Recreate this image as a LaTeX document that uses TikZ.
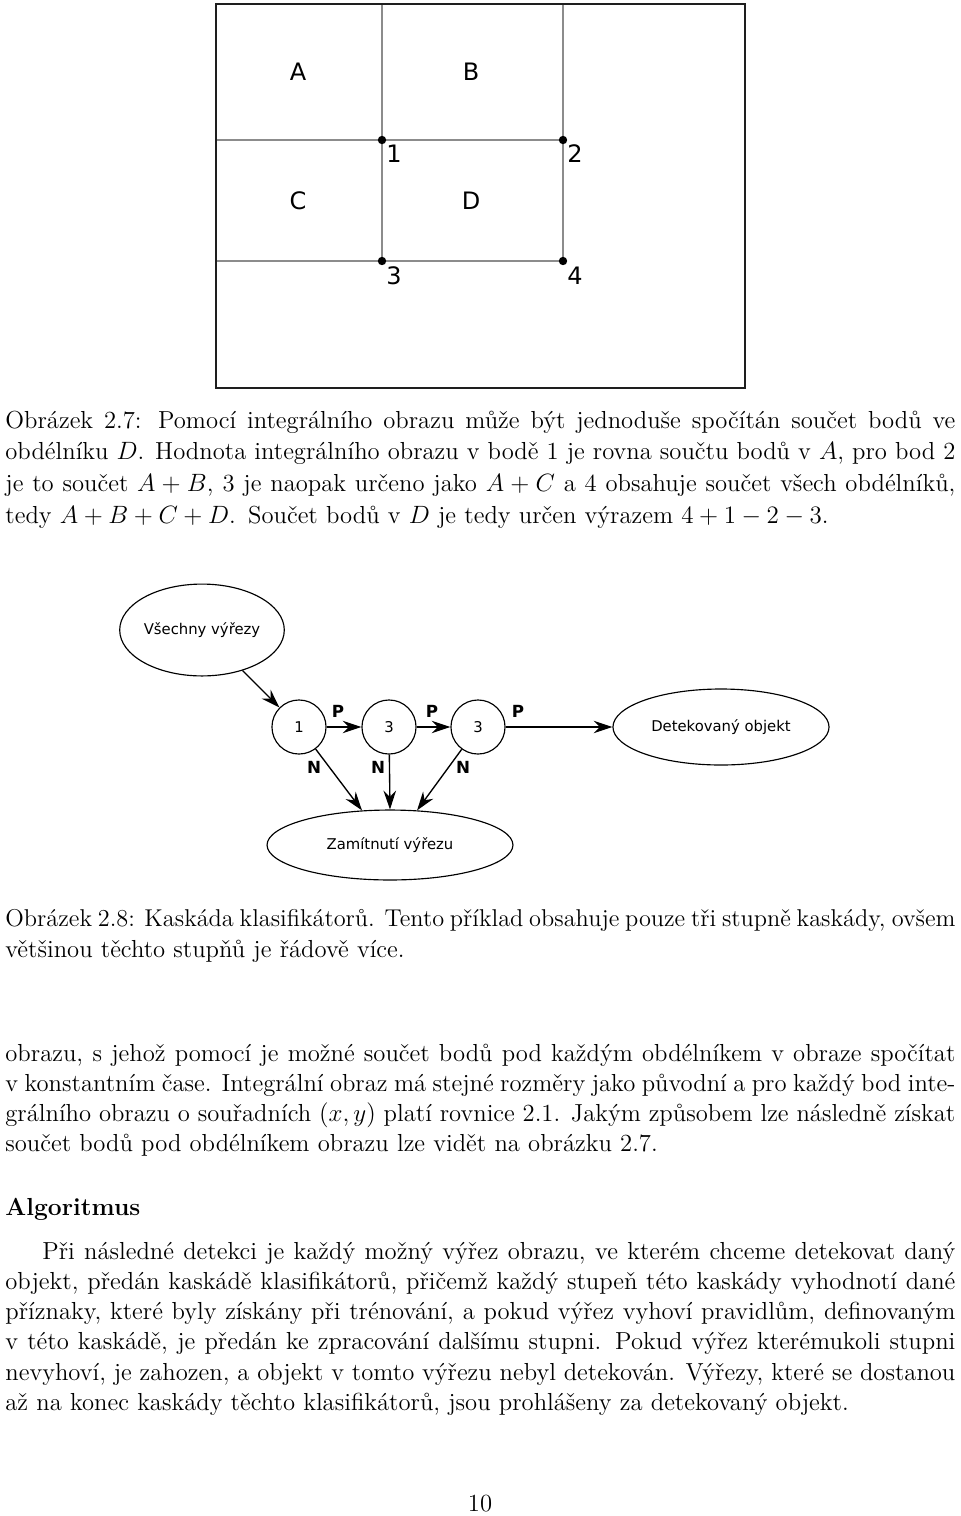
\documentclass[tikz,border=0pt]{standalone}
\usepackage{fontspec}
\usetikzlibrary{shapes.geometric,arrows.meta}
\newfontfamily\dvs{DejaVu Sans}
\definecolor{framec}{RGB}{30,30,30}
\definecolor{gridc}{RGB}{140,140,140}
\newcommand{\jline}[1]{\leavevmode\hbox to 455.05pt{\spaceskip=0pt\xspaceskip=0pt #1}}
\begin{document}
\begin{tikzpicture}[x=0.479pt,y=-0.479pt,
  frameline/.style={draw=framec,line width=1pt},
  gridline/.style={draw=gridc,line width=0.5pt},
  dotc/.style={fill=black},
  lab/.style={inner sep=0,font=\dvs\fontsize{11.5}{14}\selectfont},
  ell/.style={draw,ellipse,inner sep=0,line width=0.55pt,font=\dvs\fontsize{7.1}{9}\selectfont},
  stage/.style={draw,circle,inner sep=0,line width=0.55pt,minimum size=25.9pt,font=\dvs\fontsize{7.1}{9}\selectfont},
  pn/.style={inner sep=0,font=\dvs\bfseries\fontsize{8}{10}\selectfont},
  arr/.style={line width=0.65pt,-{Stealth[length=9pt,width=6pt,inset=3pt]}},
  captxt/.style={anchor=base west,inner sep=0,text width=455.05pt,align=left,font=\fontsize{11.8}{15.3}\selectfont},
  bodytxt/.style={anchor=base west,inner sep=0,text width=455.05pt,align=left,font=\fontsize{11.8}{14.5}\selectfont}]
\useasboundingbox (0,0) rectangle (960,1516);
\fill[white] (0,0) rectangle (960,1516);

% ---- Figure 2.7
\coordinate (p1) at (382,140);
\coordinate (p2) at (563,140);
\coordinate (p3) at (382,261);
\coordinate (p4) at (563,261);
\coordinate (t1) at (382,4);
\coordinate (t2) at (563,4);
\coordinate (l1) at (216,140);
\coordinate (l2) at (216,261);
\draw[gridline] (t1) -- (p3) (t2) -- (p4) (l1) -- (p2) (l2) -- (p4);
\draw[frameline] (216,4) rectangle (745,388);
\foreach \p in {p1,p2,p3,p4} \fill[dotc] (\p) circle[radius=2pt];
\node[lab] (A) at (298,72) {A};
\node[lab] (B) at (471,72) {B};
\node[lab] (C) at (298,201) {C};
\node[lab] (D) at (471,201) {D};
\node[lab] (n1) at (394,154) {1};
\node[lab] (n2) at (575,154) {2};
\node[lab] (n3) at (394,276) {3};
\node[lab] (n4) at (575,276) {4};

% ---- Caption 2.7
\node[captxt] (cap1) at (5,428) {\jline{Obrázek 2.7: Pomocí integrálního obrazu může být jednoduše spočítán součet bodů ve}\\
\jline{obdélníku $D$. Hodnota integrálního obrazu v~bodě 1 je rovna součtu bodů v~$A$, pro bod 2}\\
\jline{je to součet $A+B$, 3 je naopak určeno jako $A+C$ a 4 obsahuje součet všech obdélníků,}\\
tedy $A+B+C+D$. Součet bodů v~$D$ je tedy určen výrazem $4+1-2-3$.};

% ---- Figure 2.8 (cascade)
\node[ell,minimum width=77.6pt,minimum height=44pt] (vse) at (202,630) {Všechny výřezy};
\node[stage] (c1) at (299,727) {1};
\node[stage] (c2) at (389,727) {3};
\node[stage] (c3) at (478,727) {3};
\node[ell,minimum width=103.5pt,minimum height=36.4pt] (det) at (721,727) {Detekovaný objekt};
\node[ell,minimum width=117.8pt,minimum height=33.5pt] (zam) at (390,845) {Zamítnutí výřezu};
\draw[arr] (vse) -- (c1);
\draw[arr] (c1) -- (c2);
\draw[arr] (c2) -- (c3);
\draw[arr] (c3) -- (det);
\draw[arr] (c1) -- (zam.129.5);
\draw[arr] (c2) -- (zam.north);
\draw[arr] (c3) -- (zam.52.9);
\node[pn] (P1) at (338,711) {P};
\node[pn] (P2) at (432,711) {P};
\node[pn] (P3) at (518,711) {P};
\node[pn] (N1) at (314,767) {N};
\node[pn] (N2) at (378,767) {N};
\node[pn] (N3) at (463,767) {N};

% ---- Caption 2.8
\node[captxt] (cap2) at (5,926) {\jline{\fontsize{11.65}{15.3}\selectfont Obrázek 2.8: Kaskáda klasifikátorů. Tento příklad obsahuje pouze tři stupně kaskády, ovšem}\\
většinou těchto stupňů je řádově více.};

% ---- Body text
\node[bodytxt] (body1) at (5,1061) {\jline{obrazu, s~jehož pomocí je možné součet bodů pod každým obdélníkem v~obraze spočítat}\\
\jline{v~konstantním čase. Integrální obraz má stejné rozměry jako původní a pro každý bod inte-}\\
\jline{grálního obrazu o souřadních $(x,y)$ platí rovnice 2.1. Jakým způsobem lze následně získat}\\
součet bodů pod obdélníkem obrazu lze vidět na obrázku 2.7.};

\node[anchor=base west,inner sep=0,font=\fontsize{11.8}{14.5}\selectfont\bfseries] (head) at (5,1215) {Algoritmus};

\node[bodytxt] (body2) at (5,1259) {\jline{\hspace*{17.7pt}Při následné detekci je každý možný výřez obrazu, ve kterém chceme detekovat daný}\\
\jline{objekt, předán kaskádě klasifikátorů, přičemž každý stupeň této kaskády vyhodnotí dané}\\
\jline{příznaky, které byly získány při trénování, a pokud výřez vyhoví pravidlům, definovaným}\\
\jline{v~této kaskádě, je předán ke zpracování dalšímu stupni. Pokud výřez kterémukoli stupni}\\
\jline{nevyhoví, je zahozen, a objekt v~tomto výřezu nebyl detekován. Výřezy, které se dostanou}\\
až na konec kaskády těchto klasifikátorů, jsou prohlášeny za detekovaný objekt.};

\node[anchor=base,inner sep=0,font=\fontsize{11.8}{14.5}\selectfont] (pg) at (480,1511) {10};
\end{tikzpicture}
\end{document}
